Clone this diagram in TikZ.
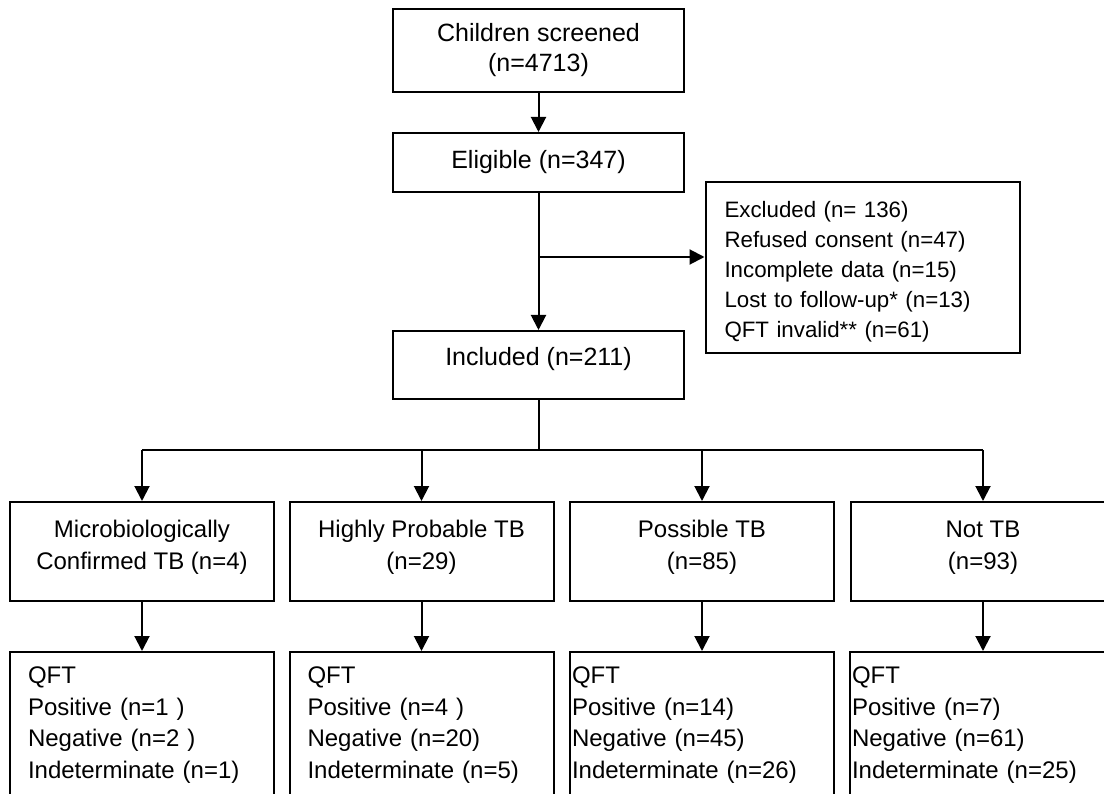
\documentclass[tikz,border=0pt]{standalone}
\usepackage{fontspec}
\setmainfont{Liberation Sans}
\usetikzlibrary{arrows.meta}

\begin{document}
\begin{tikzpicture}[x=1pt, y=-1pt,
  box/.style={draw=black, line width=2pt, inner sep=0pt, align=center},
  topbox/.style={box, minimum width=291pt, font=\fontsize{25}{30}\selectfont},
  catbox/.style={box, minimum width=264pt, minimum height=99pt, font=\fontsize{24}{32}\selectfont},
  qftbox/.style={box, anchor=north, align=left, inner ysep=15pt, font=\fontsize{24}{31.5}\selectfont},
  flow/.style={draw=black, line width=2pt, -{Triangle[length=15pt, width=15pt]}},
  plain/.style={draw=black, line width=2pt}]
\clip (0,0) rectangle (1104,794);
% top of the chart
\node[topbox, minimum height=83pt] (screen) at (538.5,50.5) {Children screened\\(n=4713)};
\node[topbox, minimum height=59pt] (elig) at (538.5,162.5) {Eligible (n=347)\rule[-7pt]{0pt}{0pt}};
\node[topbox, minimum height=68pt] (incl) at (538.5,365) {Included (n=211)\rule[-18pt]{0pt}{0pt}};
\node[box, align=left, text width=276pt, inner xsep=19pt, minimum height=171pt,
  font=\fontsize{22.3}{30}\selectfont] (excl) at (862.5,267.5)
  {\rule{0pt}{24pt}Excluded (n= 136)\\Refused consent (n=47)\\Incomplete data (n=15)\\Lost to follow-up* (n=13)\\QFT invalid** (n=61)};
% categories
\node[catbox] (micro) at (142,551.5) {Microbiologically\\Confirmed TB (n=4)\rule[-13pt]{0pt}{0pt}};
\node[catbox] (prob) at (421.5,551.5) {Highly Probable TB\\(n=29)\rule[-13pt]{0pt}{0pt}};
\node[catbox] (poss) at (702,551.5) {Possible TB\\(n=85)\rule[-13pt]{0pt}{0pt}};
\node[catbox] (notb) at (983,551.5) {Not TB\\(n=93)\rule[-13pt]{0pt}{0pt}};
% QFT results
\node[qftbox, text width=228pt, inner xsep=18pt] (qmicro) at (142,651) {QFT\\Positive (n=1 )\\Negative (n=2 )\\Indeterminate (n=1)\rule[-30pt]{0pt}{0pt}};
\node[qftbox, text width=228pt, inner xsep=18pt] (qprob) at (421.5,651) {QFT\\Positive (n=4 )\\Negative (n=20)\\Indeterminate (n=5)\rule[-30pt]{0pt}{0pt}};
\node[qftbox, text width=260pt, inner xsep=2pt] (qposs) at (702,651) {QFT\\Positive (n=14)\\Negative (n=45)\\Indeterminate (n=26)\rule[-30pt]{0pt}{0pt}};
\node[qftbox, text width=262pt, inner xsep=2pt] (qnotb) at (983,651) {QFT\\Positive (n=7)\\Negative (n=61)\\Indeterminate (n=25)\rule[-30pt]{0pt}{0pt}};
\coordinate (split) at (538.5,257);
\coordinate (fork) at (538.5,450);
\draw[flow] (screen) -- (elig);
\draw[flow] (elig) -- (incl);
\draw[flow] (split) -- (split -| excl.west);
\draw[plain] (incl) -- (fork);
\draw[plain] (micro.north |- fork) -- (notb.north |- fork);
\draw[flow] (micro.north |- fork) -- (micro);
\draw[flow] (prob.north |- fork) -- (prob);
\draw[flow] (poss.north |- fork) -- (poss);
\draw[flow] (notb.north |- fork) -- (notb);
\draw[flow] (micro) -- (qmicro);
\draw[flow] (prob) -- (qprob);
\draw[flow] (poss) -- (qposs);
\draw[flow] (notb) -- (qnotb);
\end{tikzpicture}
\end{document}
